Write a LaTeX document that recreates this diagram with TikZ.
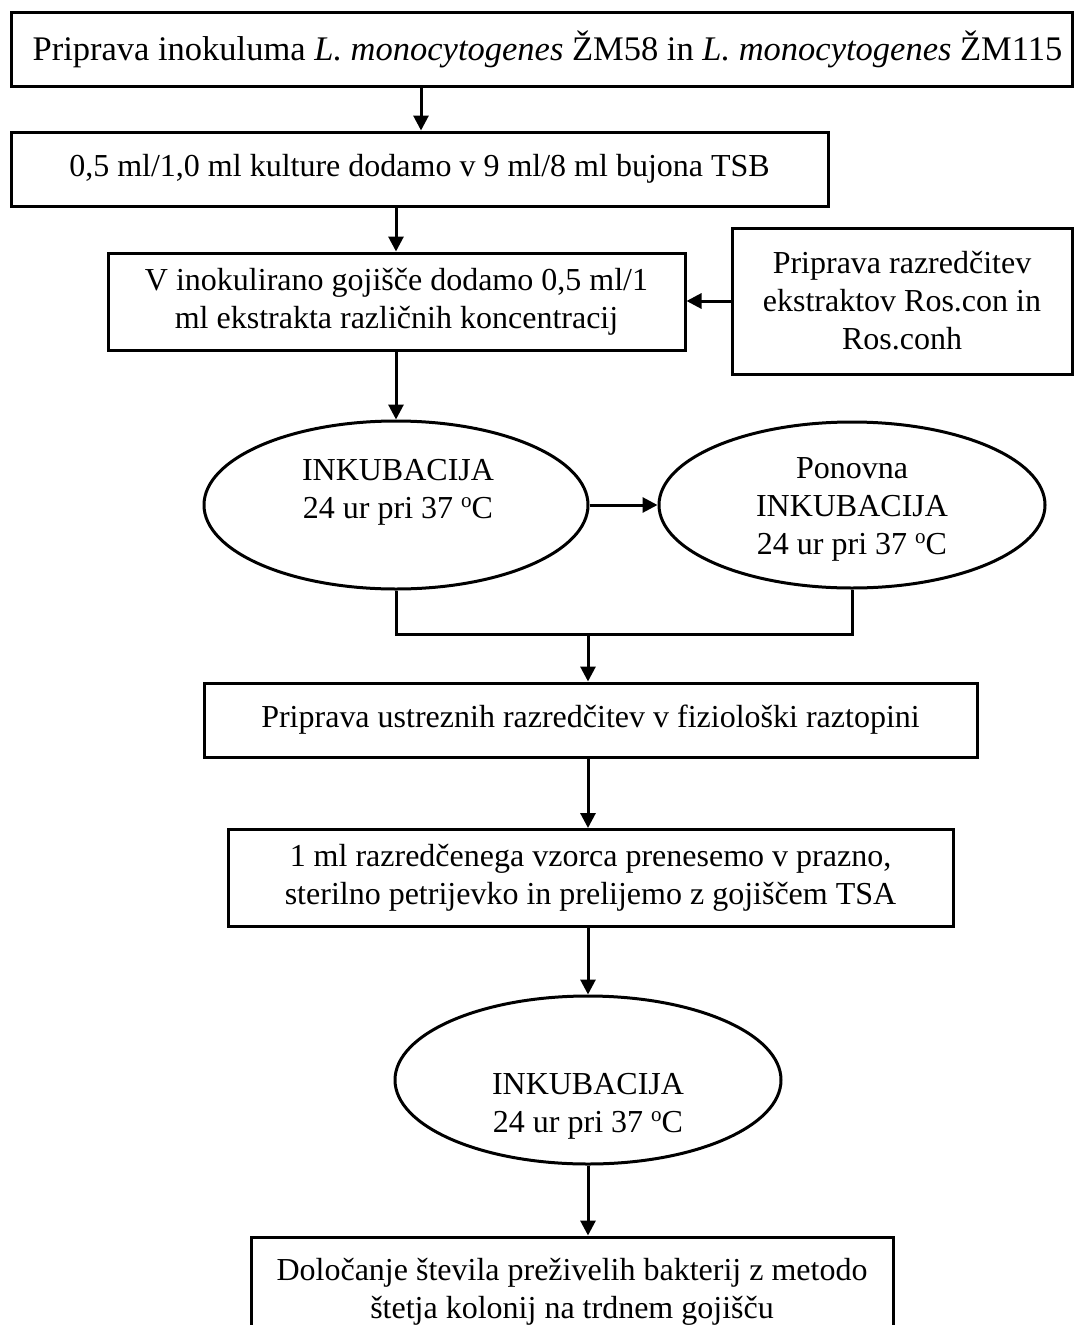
\documentclass[tikz,border=0pt]{standalone}
\usepackage{fontspec}
\setmainfont{Liberation Serif}
\usetikzlibrary{shapes.geometric,arrows.meta}
\newcommand{\degsup}{\raisebox{11pt}{\fontsize{21}{21}\selectfont o}}
\begin{document}
\begin{tikzpicture}[x=1pt,y=-1pt,
  every node/.style={font=\fontsize{32}{38}\selectfont},
  procbox/.style={draw, line width=3pt, rectangle, inner sep=0pt, align=center},
  incub/.style={draw, line width=3pt, ellipse, inner sep=0pt},
  txt/.style={align=center, inner sep=0pt},
  conn/.style={line width=3pt, -{Triangle[length=15pt,width=15pt]}},
  wire/.style={line width=3pt}]
\useasboundingbox (0,0) rectangle (1079,1325);
\clip (0,0) rectangle (1079,1325);

\node[procbox, minimum width=1061pt, minimum height=74pt,
  font=\fontsize{34.5}{40}\selectfont] (b1) at (541.5,49)
  {\hspace*{12pt}Priprava inokuluma \textit{L. monocytogenes} ŽM58 in \textit{L. monocytogenes} ŽM115};
\node[procbox, minimum width=817pt, minimum height=74pt] (b2) at (419.5,169)
  {0,5 ml/1,0 ml kulture dodamo v 9 ml/8 ml bujona TSB};
\node[procbox, minimum width=577pt, minimum height=97pt] (b3) at (396.5,301.5)
  {V inokulirano gojišče dodamo 0,5 ml/1\\ml ekstrakta različnih koncentracij};
\node[procbox, minimum width=340pt, minimum height=146pt] (b4) at (902,301)
  {Priprava razredčitev\\ekstraktov Ros.con in\\Ros.conh};

\node[incub, minimum width=384pt, minimum height=168pt] (e1) at (396,505) {};
\node[txt] (t1) at (398,492) {INKUBACIJA\\24 ur pri 37 \degsup C};
\node[incub, minimum width=386pt, minimum height=166pt] (e2) at (852,505) {};
\node[txt] (t2) at (852,509) {Ponovna\\INKUBACIJA\\24 ur pri 37 \degsup C};

\coordinate (jn) at (588,634);
\node[procbox, minimum width=773pt, minimum height=74pt] (b5) at (590.5,720)
  {Priprava ustreznih razredčitev v fiziološki raztopini};
\node[procbox, minimum width=725pt, minimum height=97pt] (b6) at (590.5,878)
  {1 ml razredčenega vzorca prenesemo v prazno,\\sterilno petrijevko in prelijemo z gojiščem TSA};

\node[incub, minimum width=386pt, minimum height=168pt] (e3) at (588,1080) {};
\node[txt] (t3) at (588,1106) {INKUBACIJA\\24 ur pri 37 \degsup C};

\node[procbox, minimum width=642pt, minimum height=113pt] (b7) at (572,1293.5) {};
\node[txt] (t7) at (572,1292) {Določanje števila preživelih bakterij z metodo\\štetja kolonij na trdnem gojišču};

\coordinate (xa) at (421,0);
\coordinate (xb) at (396,0);
\draw[conn] (b1.south -| xa) -- (b2.north -| xa);
\draw[conn] (b2.south -| xb) -- (b3.north -| xb);
\draw[conn] (b4.west) -- (b4.west -| b3.east);
\draw[conn] (e1.north |- b3.south) -- (e1.north);
\draw[conn] (e1.east) -- (e2.west);
\draw[wire] (e1.south) |- (jn) -| (e2.south);
\draw[conn] (jn) -- (b5.north -| jn);
\draw[conn] (b5.south -| jn) -- (b6.north -| jn);
\draw[conn] (b6.south -| e3.north) -- (e3.north);
\draw[conn] (e3.south) -- (e3.south |- b7.north);
\end{tikzpicture}
\end{document}
